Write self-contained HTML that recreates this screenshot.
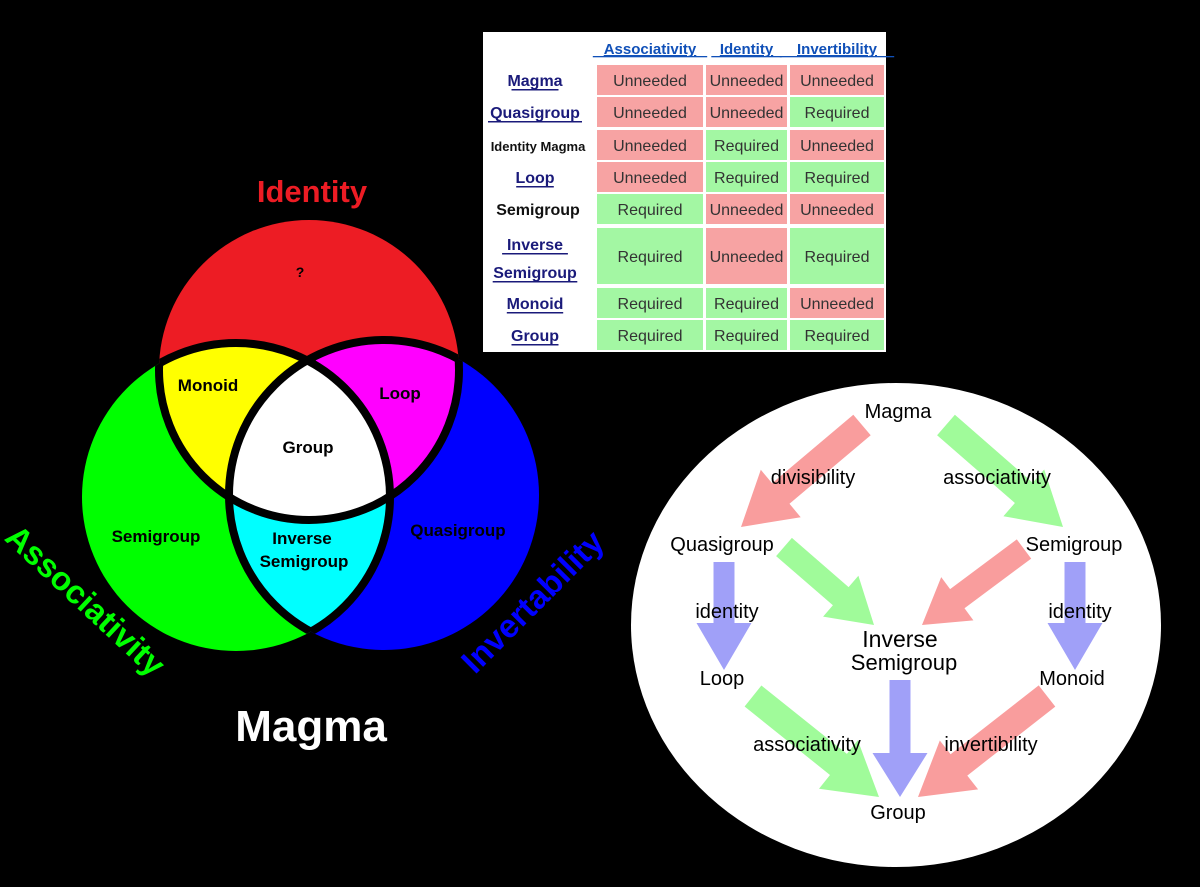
<!DOCTYPE html>
<html><head><meta charset="utf-8"><style>
html,body{margin:0;padding:0;background:#000;width:1200px;height:887px;overflow:hidden}
svg{display:block}
text{font-family:"Liberation Sans",Arial,sans-serif}
</style></head><body>
<svg id="s" width="1200" height="887" viewBox="0 0 1200 887">
<defs>
<clipPath id="cR"><circle cx="309" cy="370" r="150"/></clipPath>
<clipPath id="cG"><circle cx="236" cy="497" r="154"/></clipPath>
<clipPath id="cB"><circle cx="384" cy="495" r="155"/></clipPath>
<clipPath id="cGB"><circle cx="236" cy="497" r="154"/><circle cx="384" cy="495" r="155"/></clipPath>
<clipPath id="cRB"><circle cx="309" cy="370" r="150"/><circle cx="384" cy="495" r="155"/></clipPath>
<clipPath id="cRG"><circle cx="309" cy="370" r="150"/><circle cx="236" cy="497" r="154"/></clipPath>
</defs>
<rect width="1200" height="887" fill="#000"/>
<!-- Venn -->
<circle cx="309" cy="370" r="150" fill="#ed1c24"/>
<circle cx="236" cy="497" r="154" fill="#00ff00"/>
<circle cx="384" cy="495" r="155" fill="#0000ff"/>
<g clip-path="url(#cR)"><circle cx="236" cy="497" r="154" fill="#ffff00"/><circle cx="384" cy="495" r="155" fill="#ff00ff"/></g>
<g clip-path="url(#cG)"><circle cx="384" cy="495" r="155" fill="#00ffff"/></g>
<g clip-path="url(#cR)"><g clip-path="url(#cG)"><circle cx="384" cy="495" r="155" fill="#fff"/></g></g>
<g fill="none" stroke="#000" stroke-width="8">
<circle cx="309" cy="370" r="150" clip-path="url(#cGB)"/>
<circle cx="236" cy="497" r="154" clip-path="url(#cRB)"/>
<circle cx="384" cy="495" r="155" clip-path="url(#cRG)"/>
</g>
<g font-weight="bold" text-anchor="middle" fill="#000" font-size="17">
<text x="312" y="202" font-size="31" fill="#ed1c24">Identity</text>
<text x="300" y="277" font-size="14">?</text>
<text x="208" y="391">Monoid</text>
<text x="400" y="399">Loop</text>
<text x="308" y="453">Group</text>
<text x="156" y="542">Semigroup</text>
<text x="302" y="544">Inverse</text>
<text x="304" y="567">Semigroup</text>
<text x="458" y="536">Quasigroup</text>
<text x="86" y="612" font-size="33" fill="#00ff00" transform="rotate(43 86 600)">Associativity</text>
<text x="532" y="613" font-size="33" fill="#0000ff" transform="rotate(-45 532 601)">Invertability</text>
<text x="311" y="741" font-size="44" fill="#fff">Magma</text>
</g>
<!-- Table -->
<rect x="483" y="32" width="403" height="320" fill="#fff"/>
<g id="tbl"></g>
<!-- Flow ellipse -->
<ellipse cx="896" cy="625" rx="265" ry="242" fill="#fff"/>
<g id="arrows"></g>
<g font-size="20" text-anchor="middle" fill="#000">
<text x="898" y="418">Magma</text>
<text x="813" y="484">divisibility</text>
<text x="997" y="484">associativity</text>
<text x="722" y="551">Quasigroup</text>
<text x="1074" y="551">Semigroup</text>
<text x="727" y="618">identity</text>
<text x="1080" y="618">identity</text>
<text x="900" y="647" font-size="23">Inverse</text>
<text x="904" y="670" font-size="22">Semigroup</text>
<text x="722" y="685">Loop</text>
<text x="1072" y="685">Monoid</text>
<text x="807" y="751">associativity</text>
<text x="991" y="751">invertibility</text>
<text x="898" y="819">Group</text>
</g>
</svg>
<script>
var NS="http://www.w3.org/2000/svg";
function el(p,n,a,t){var e=document.createElementNS(NS,n);for(var k in a)e.setAttribute(k,a[k]);if(t)e.textContent=t;p.appendChild(e);return e;}
// arrows
var ag=document.getElementById("arrows");
function arrow(x1,y1,x2,y2,sw,hw,hl,col){
 var dx=x2-x1,dy=y2-y1,L=Math.hypot(dx,dy),ux=dx/L,uy=dy/L,px=-uy,py=ux;
 var bx=x2-ux*hl,by=y2-uy*hl;
 var pts=[[x1+px*sw/2,y1+py*sw/2],[bx+px*sw/2,by+py*sw/2],[bx+px*hw/2,by+py*hw/2],[x2,y2],[bx-px*hw/2,by-py*hw/2],[bx-px*sw/2,by-py*sw/2],[x1-px*sw/2,y1-py*sw/2]];
 el(ag,"polygon",{points:pts.map(function(p){return p[0].toFixed(1)+","+p[1].toFixed(1)}).join(" "),fill:col});
}
var R="#f99d9d",G="#a0fb9a",B="#a0a0f8";
arrow(862,425,741,527,27,62,52,R);
arrow(946,425,1063,527,27,62,52,G);
arrow(784,547,874,625,24,54,44,G);
arrow(1024,549,922,625,24,54,44,R);
arrow(724,562,724,670,21,55,47,B);
arrow(1075,562,1075,670,21,55,47,B);
arrow(900,680,900,797,21,55,44,B);
arrow(753,696,879,797,27,62,52,G);
arrow(1047,696,918,797,27,62,52,R);
// table
var tg=document.getElementById("tbl");
var cols=[[597,703],[706,787],[790,884]];
var rows=[[65,95],[97,127],[130,160],[162,192],[194,224],[228,284],[288,318],[320,350]];
var heads=["Associativity","Identity","Invertibility"];
var labels=[["Magma",1],["Quasigroup",1],["Identity Magma",0],["Loop",1],["Semigroup",0],["Inverse|Semigroup",1],["Monoid",1],["Group",1]];
var data=["UUU","UUR","URU","URR","RUU","RUR","RRU","RRR"];
heads.forEach(function(h,i){var cx=(cols[i][0]+cols[i][1])/2;
 el(tg,"text",{x:cx,y:54,"text-anchor":"middle","font-size":"15","font-weight":"bold",fill:"#1050b8","text-decoration":"underline"},h);
 el(tg,"rect",{x:cx-h.length*4.4,y:56,width:h.length*8.8,height:1.3,fill:"#1050b8"});
});
rows.forEach(function(r,i){
 var cy=(r[0]+r[1])/2;
 for(var j=0;j<3;j++){var req=data[i][j]=="R";
  el(tg,"rect",{x:cols[j][0],y:r[0],width:cols[j][1]-cols[j][0],height:r[1]-r[0],fill:req?"#a3f7a3":"#f7a3a3"});
  el(tg,"text",{x:(cols[j][0]+cols[j][1])/2,y:cy+6,"text-anchor":"middle","font-size":"16",fill:"#333"},req?"Required":"Unneeded");
 }
 var lb=labels[i],parts=lb[0].split("|");
 parts.forEach(function(p,k){
  var y=parts.length==1?cy+6:(k==0?cy-6:cy+22);
  if(lb[1]){
   el(tg,"text",{x:535,y:y,"text-anchor":"middle","font-size":"16","font-weight":"bold",fill:"#1a1a7a"},p);
   el(tg,"rect",{x:535-p.length*4.7,y:y+3,width:p.length*9.4,height:1.5,fill:"#1a1a7a"});
  } else {
   el(tg,"text",{x:538,y:y,"text-anchor":"middle","font-size":p.length>10?"13":"16","font-weight":"bold",fill:"#111"},p);
  }
 });
});
</script>
</body></html>
